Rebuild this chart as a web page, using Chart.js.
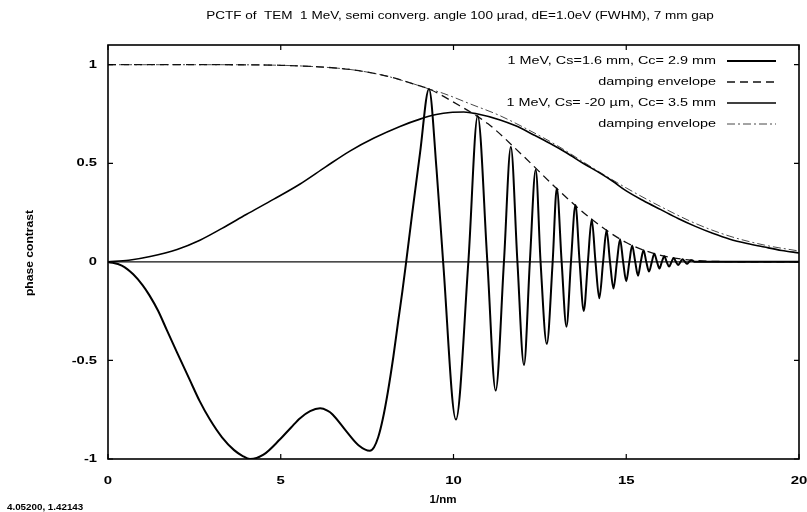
<!DOCTYPE html>
<html>
<head>
<meta charset="utf-8">
<script src="https://cdn.jsdelivr.net/npm/chart.js@4.4.1/dist/chart.umd.min.js"></script>
<style>
    html, body { margin: 0; padding: 0; background: #fff; }
    #wrap { width: 807px; height: 512px; position: relative; }
</style>
</head>
<body>
<div id="wrap"><canvas id="pctfChart" width="807" height="512"></canvas></div>
<script>
// Dữ liệu
const chartTitle = 'PCTF of  TEM  1 MeV, semi converg. angle 100 \u00b5rad, dE=1.0eV (FWHM), 7 mm gap';
const xAxisTitle = '1/nm';
const yAxisTitle = 'phase contrast';
const cursorText = '4.05200, 1.42143';
const xTicks = [0, 5, 10, 15, 20];
const yTicks = [-1, -0.5, 0, 0.5, 1];
const seriesLabels = [
    '1 MeV, Cs=1.6 mm, Cc= 2.9 mm',
    'damping envelope',
    '1 MeV, Cs= -20 \u00b5m, Cc= 3.5 mm',
    'damping envelope'
];

// Cs = 1.6 mm (dao động)
const oscX = [0, 0.4, 0.73, 1.0, 1.2, 1.45, 1.70, 2.0, 2.37, 2.65, 2.95, 3.3, 3.65, 3.9, 4.11, 4.5, 4.98, 5.3, 5.56, 5.85, 6.14,
    6.35, 6.5, 6.9, 7.25, 7.58, 7.70, 7.82, 7.95, 8.1, 8.26, 8.40, 8.52, 8.63, 8.80, 9.03, 9.29, 9.51, 9.70,
    10.07, 10.43, 10.70, 10.98, 11.22, 11.46, 11.66, 11.85, 12.04, 12.21, 12.38, 12.52, 12.70, 12.87, 12.99, 13.13, 13.27, 13.40,
    13.53, 13.65, 13.77, 13.89, 14.00, 14.11, 14.22, 14.33, 14.43, 14.53, 14.63, 14.73, 14.82, 14.91, 15.00, 15.09, 15.17, 15.26,
    15.34, 15.42, 15.50, 15.58, 15.66, 15.74, 15.81, 15.89, 15.96, 16.03, 16.10, 16.17, 16.24, 16.31, 16.37, 16.44, 16.50, 16.57,
    16.63, 16.70, 16.76, 16.82, 16.88, 17.0, 20];
const oscY = [0, -0.019, -0.063, -0.118, -0.17, -0.248, -0.345, -0.46, -0.60, -0.705, -0.80, -0.89, -0.955, -0.985, -1.0, -0.978, -0.90, -0.84, -0.793, -0.757, -0.743,
    -0.755, -0.774, -0.86, -0.93, -0.958, -0.94, -0.89, -0.80, -0.66, -0.48, -0.30, -0.15, 0, 0.24, 0.55, 0.877, 0.467, 0,
    -0.80, 0, 0.74, 0, -0.653, 0, 0.582, 0, -0.523, 0, 0.467, 0, -0.416, 0, 0.374, 0, -0.329, 0,
    0.288, 0, -0.249, 0, 0.216, 0, -0.185, 0, 0.160, 0, -0.135, 0, 0.115, 0, -0.098, 0, 0.083, 0,
    -0.070, 0, 0.059, 0, -0.049, 0, 0.041, 0, -0.034, 0, 0.029, 0, -0.024, 0, 0.020, 0, -0.016, 0,
    0.013, 0, -0.010, 0, 0.008, 0, 0];

// Đường bao 1
const env1X = [0, 3, 5, 6, 7, 8, 9, 9.29, 10, 11, 12, 13, 14, 15, 16, 17, 18, 19, 20];
const env1Y = [1, 1, 0.997, 0.99, 0.976, 0.945, 0.894, 0.877, 0.81, 0.70, 0.54, 0.37, 0.216, 0.098, 0.033, 0.007, 0.001, 0, 0];

// Cs = -20 µm
const humpX = [0, 0.6, 1.22, 2.0, 2.66, 3.3, 4.0, 4.8, 5.56, 6.3, 7.0, 7.7, 8.45, 9.03, 9.5, 9.90, 10.3, 10.67, 11.35, 11.8, 12.31,
    12.8, 13.28, 13.75, 14.24, 14.6, 15, 15.5, 16, 16.5, 17, 17.5, 18, 18.5, 19, 19.5, 20];
const humpY = [0, 0.008, 0.027, 0.063, 0.11, 0.17, 0.24, 0.318, 0.395, 0.482, 0.562, 0.628, 0.687, 0.724, 0.747, 0.758, 0.760, 0.751, 0.72, 0.69, 0.645,
    0.60, 0.552, 0.50, 0.45, 0.41, 0.36, 0.31, 0.265, 0.22, 0.18, 0.145, 0.115, 0.093, 0.075, 0.058, 0.045];

// Đường bao 2
const env2X = [0, 3, 5, 6, 7, 8, 9, 9.29, 9.7, 10.5, 11.3, 12, 13, 14, 15, 16, 17, 18, 19, 20];
const env2Y = [1, 1, 0.997, 0.99, 0.976, 0.945, 0.894, 0.877, 0.855, 0.80, 0.745, 0.685, 0.59, 0.48, 0.375, 0.28, 0.195, 0.13, 0.085, 0.055];

const fontFamily = '"Liberation Sans", Arial, sans-serif';

function toPoints(xs, ys) {
    return xs.map((x, i) => ({ x: x, y: ys[i] }));
}

// Viết chữ giãn ngang giống font gnuplot
function drawText(ctx, text, x, y, align, font, sx, rotate) {
    ctx.save();
    ctx.font = font;
    ctx.fillStyle = '#000';
    ctx.textAlign = align;
    ctx.textBaseline = 'middle';
    ctx.translate(x, y);
    if (rotate) ctx.rotate(rotate);
    ctx.scale(sx, 1);
    ctx.fillText(text, 0, 0);
    ctx.restore();
}

// Plugin vẽ khung, vạch chia, chú thích kiểu gnuplot
const gnuplotDecor = {
    id: 'gnuplotDecor',
    beforeDatasetsDraw(chart) {
        const ctx = chart.ctx;
        const area = chart.chartArea;
        const y0 = chart.scales.y.getPixelForValue(0);
        ctx.save();
        ctx.strokeStyle = '#111';
        ctx.lineWidth = 1.2;
        ctx.beginPath();
        ctx.moveTo(area.left, y0);
        ctx.lineTo(area.right, y0);
        ctx.stroke();
        ctx.restore();
    },
    afterDatasetsDraw(chart) {
        const ctx = chart.ctx;
        const area = chart.chartArea;
        const xs = chart.scales.x;
        const ys = chart.scales.y;
        ctx.save();

        // khung
        ctx.strokeStyle = '#000';
        ctx.lineWidth = 1.6;
        ctx.strokeRect(area.left, area.top, area.right - area.left, area.bottom - area.top);

        // vạch chia hướng vào trong
        ctx.lineWidth = 1.2;
        ctx.beginPath();
        xTicks.forEach(v => {
            const px = xs.getPixelForValue(v);
            ctx.moveTo(px, area.bottom); ctx.lineTo(px, area.bottom - 5);
            ctx.moveTo(px, area.top); ctx.lineTo(px, area.top + 5);
        });
        yTicks.forEach(v => {
            const py = ys.getPixelForValue(v);
            ctx.moveTo(area.left, py); ctx.lineTo(area.left + 5, py);
            ctx.moveTo(area.right, py); ctx.lineTo(area.right - 5, py);
        });
        ctx.stroke();
        ctx.restore();

        // nhãn trục
        const tickFont = 'bold 11.5px ' + fontFamily;
        xTicks.forEach(v => {
            drawText(ctx, String(v), xs.getPixelForValue(v), area.bottom + 22, 'center', tickFont, 1.3);
        });
        yTicks.forEach(v => {
            drawText(ctx, String(v), area.left - 11, ys.getPixelForValue(v), 'right', tickFont, 1.28);
        });
        drawText(ctx, xAxisTitle, 443, 500, 'center', 'bold 11px ' + fontFamily, 1.05);
        drawText(ctx, yAxisTitle, 30, 253, 'center', 'bold 11px ' + fontFamily, 1.1, -Math.PI / 2);

        // chú thích
        chart.data.datasets.forEach((ds, i) => {
            const rowY = 61 + i * 21;
            drawText(ctx, ds.label, area.right - 83, rowY, 'right', '11px ' + fontFamily, 1.31);
            ctx.save();
            ctx.strokeStyle = ds.borderColor;
            ctx.lineWidth = ds.borderWidth;
            ctx.setLineDash(ds.borderDash || []);
            ctx.beginPath();
            ctx.moveTo(area.right - 72, rowY);
            ctx.lineTo(area.right - 23, rowY);
            ctx.stroke();
            ctx.restore();
        });

        // tiêu đề và toạ độ con trỏ
        drawText(ctx, chartTitle, 460, 16, 'center', '11px ' + fontFamily, 1.23);
        drawText(ctx, cursorText, 7, 507, 'left', 'bold 9.8px ' + fontFamily, 1);
    }
};

document.addEventListener('DOMContentLoaded', function() {
    const ctx = document.getElementById('pctfChart').getContext('2d');

    new Chart(ctx, {
        type: 'line',
        data: {
            datasets: [{
                label: seriesLabels[0],
                data: toPoints(oscX, oscY),
                borderColor: '#000',
                borderWidth: 2,
                cubicInterpolationMode: 'monotone'
            }, {
                label: seriesLabels[1],
                data: toPoints(env1X, env1Y),
                borderColor: '#111',
                borderWidth: 1.3,
                borderDash: [8, 5],
                cubicInterpolationMode: 'monotone'
            }, {
                label: seriesLabels[2],
                data: toPoints(humpX, humpY),
                borderColor: '#000',
                borderWidth: 1.6,
                cubicInterpolationMode: 'monotone'
            }, {
                label: seriesLabels[3],
                data: toPoints(env2X, env2Y),
                borderColor: '#333',
                borderWidth: 0.9,
                borderDash: [8, 3, 2, 3],
                cubicInterpolationMode: 'monotone'
            }]
        },
        options: {
            responsive: false,
            animation: false,
            layout: { padding: { left: 0, right: 8, top: 45, bottom: 0 } },
            elements: { point: { radius: 0 } },
            plugins: {
                legend: { display: false },
                tooltip: { enabled: false }
            },
            scales: {
                x: {
                    type: 'linear',
                    min: 0,
                    max: 20,
                    afterBuildTicks: scale => { scale.ticks = xTicks.map(v => ({ value: v })); },
                    afterFit: scale => {
                        scale.height = 53;
                        scale.paddingLeft = 0;
                        scale.paddingRight = 0;
                    },
                    grid: { display: false, drawTicks: false },
                    border: { display: false },
                    ticks: { display: false }
                },
                y: {
                    min: -1,
                    max: 1.1,
                    afterBuildTicks: scale => { scale.ticks = yTicks.map(v => ({ value: v })); },
                    afterFit: scale => {
                        scale.width = 108;
                        scale.paddingTop = 0;
                        scale.paddingBottom = 0;
                    },
                    grid: { display: false, drawTicks: false },
                    border: { display: false },
                    ticks: { display: false }
                }
            }
        },
        plugins: [gnuplotDecor]
    });
});
</script>
</body>
</html>
